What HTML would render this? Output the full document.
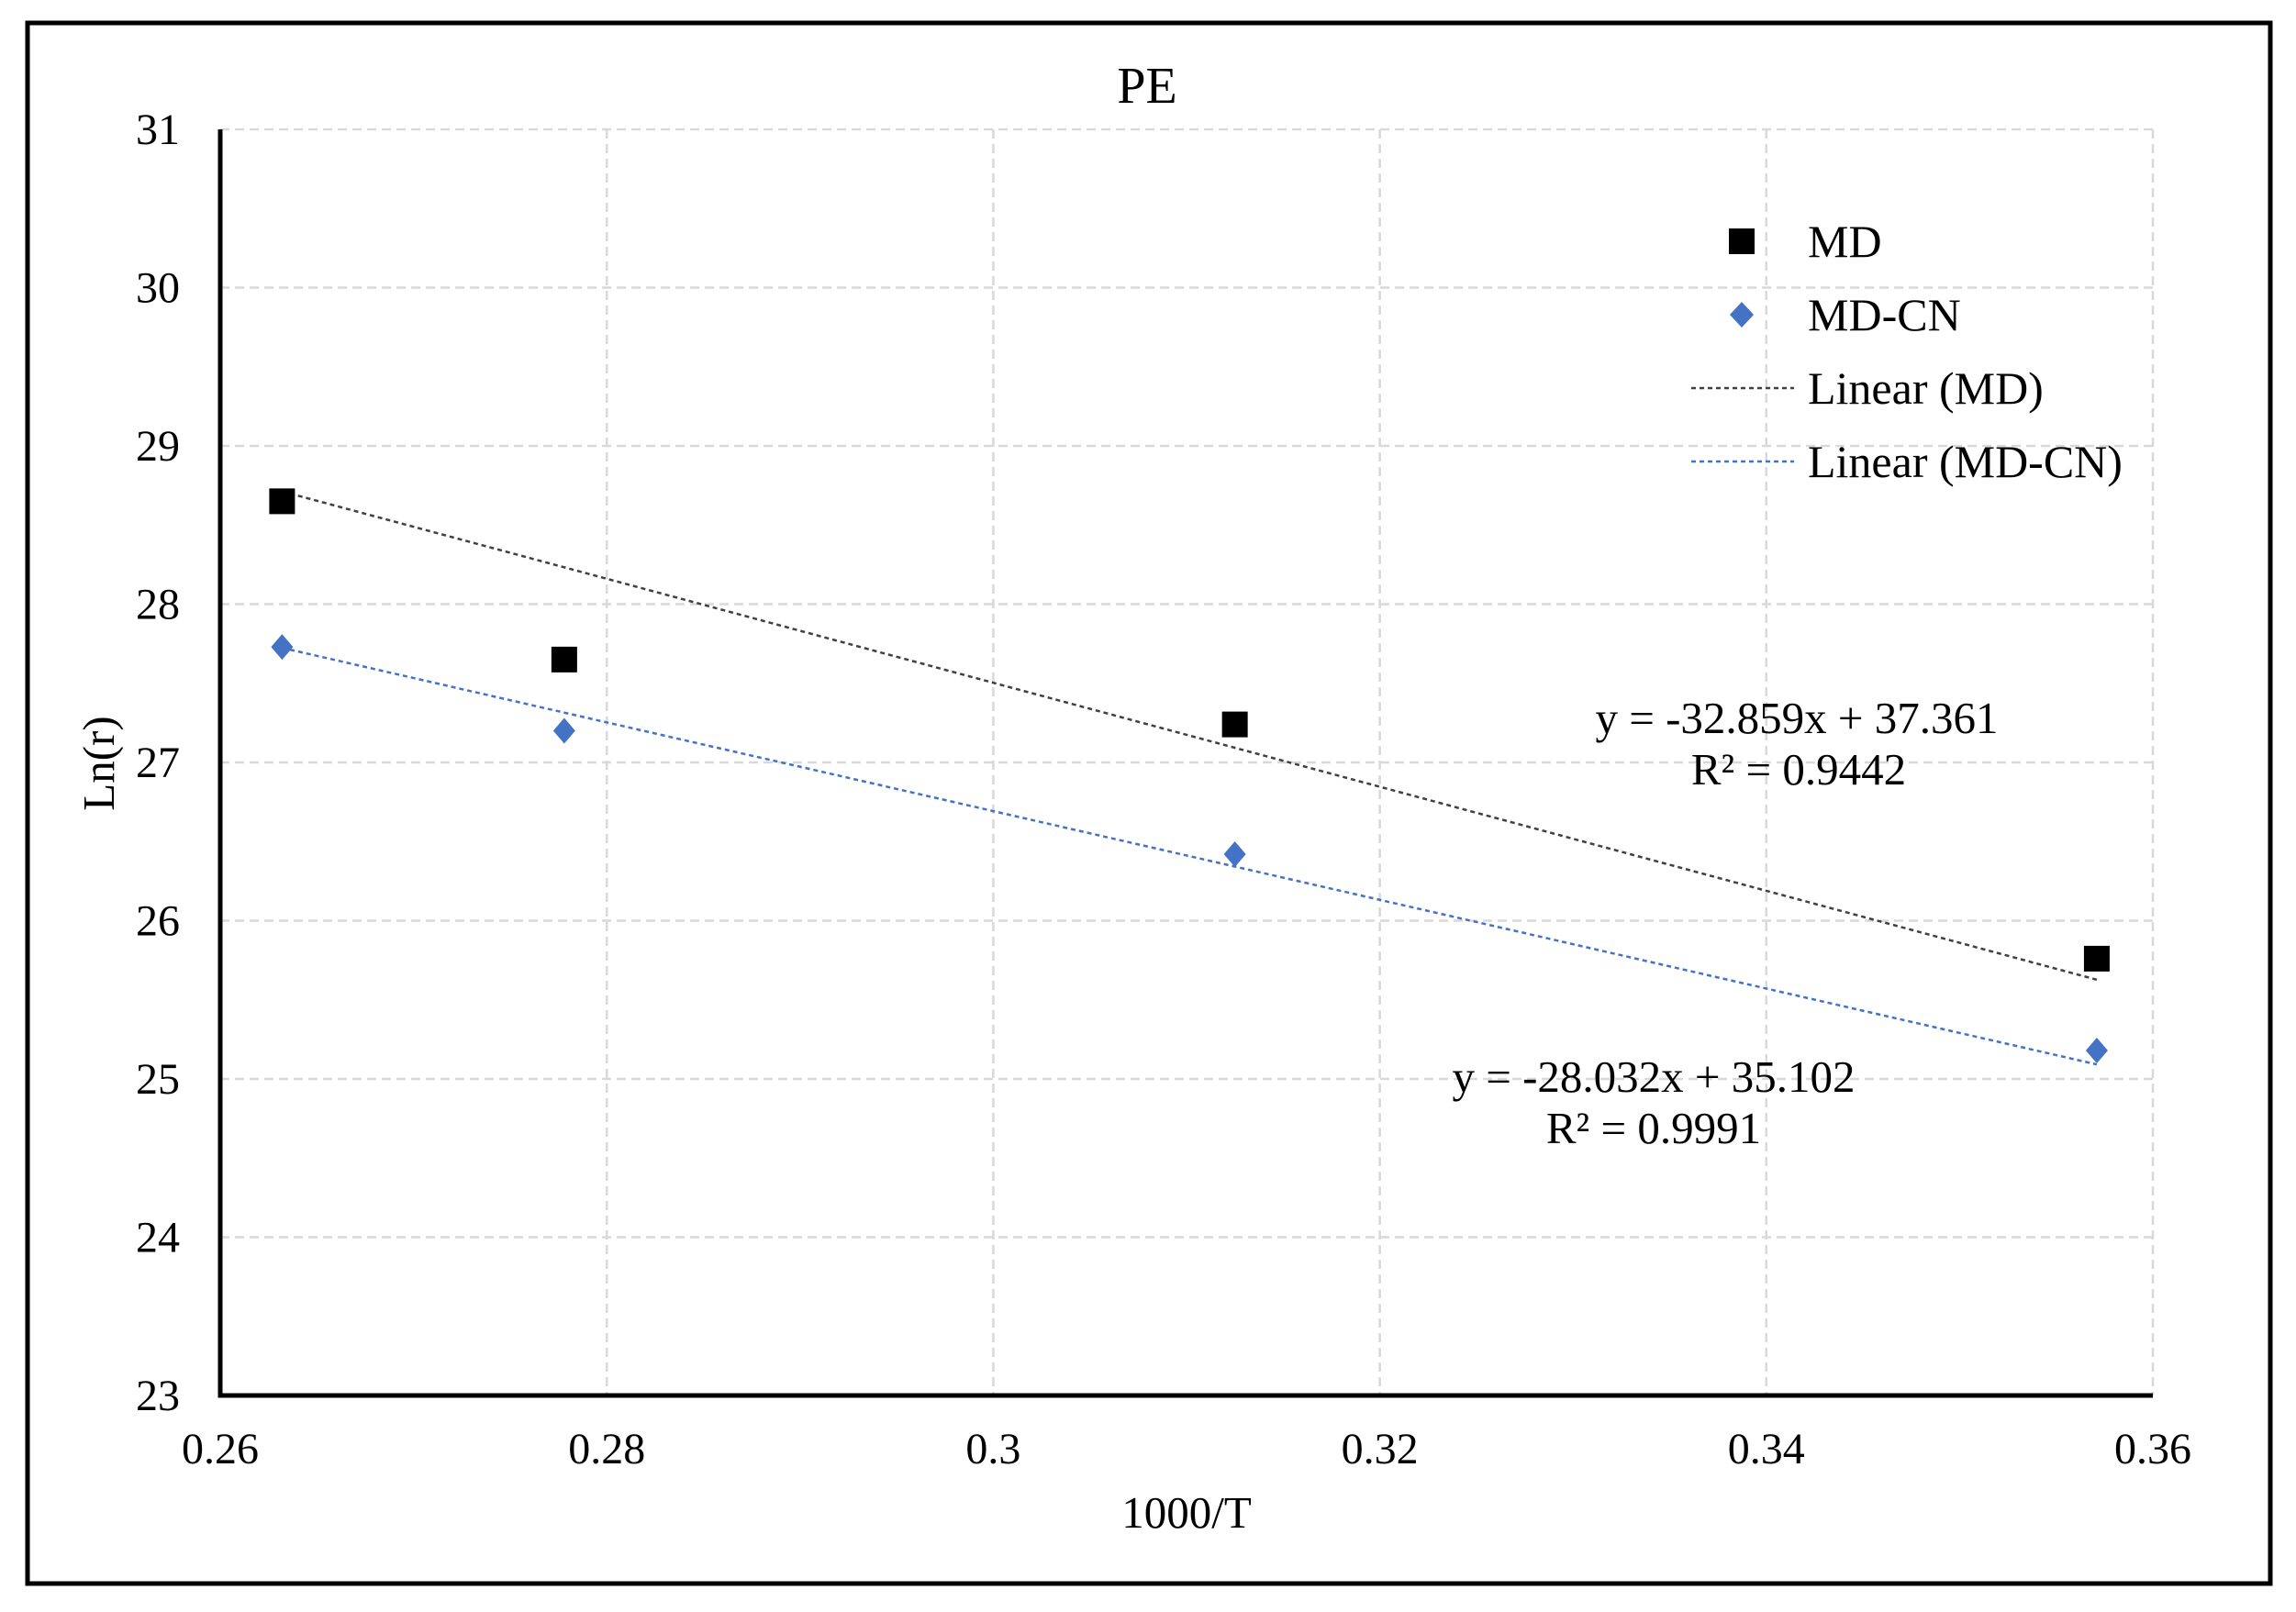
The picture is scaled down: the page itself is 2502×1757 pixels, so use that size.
<!DOCTYPE html>
<html><head><meta charset="utf-8"><style>
html,body{margin:0;padding:0;background:#fff;}
svg{display:block;font-family:"Liberation Serif",serif;}
</style></head><body>
<svg id="chart" width="2502" height="1757" viewBox="0 0 2502 1757">
<rect x="30" y="25" width="2444" height="1701" fill="#fff" stroke="#000" stroke-width="5"/>
<text x="1250" y="112" font-size="56" text-anchor="middle">PE</text>
<g id="grid"></g>
<g id="axes"></g>
<g id="series"></g>
<text x="1293" y="1665" font-size="49" text-anchor="middle">1000/T</text>
<text transform="translate(124,832) rotate(-90)" font-size="49" text-anchor="middle">Ln(r)</text>
<g>
<rect x="1884" y="249" width="28" height="28" fill="#000"/>
<text x="1970" y="280" font-size="50">MD</text>
<polygon points="1898,329 1911,343 1898,357 1885,343" fill="#4472c4"/>
<text x="1970" y="360" font-size="50">MD-CN</text>
<line x1="1843" y1="423" x2="1955" y2="423" stroke="#404040" stroke-width="2.5" stroke-dasharray="5,4"/>
<text x="1970" y="440" font-size="50">Linear (MD)</text>
<line x1="1843" y1="503" x2="1955" y2="503" stroke="#4472c4" stroke-width="2.5" stroke-dasharray="5,4"/>
<text x="1970" y="520" font-size="50">Linear (MD-CN)</text>
</g>
<text x="1958" y="799" font-size="49" text-anchor="middle">y = -32.859x + 37.361</text>
<text x="1960" y="855" font-size="49" text-anchor="middle">R² = 0.9442</text>
<text x="1802" y="1190" font-size="49" text-anchor="middle">y = -28.032x + 35.102</text>
<text x="1802" y="1246" font-size="49" text-anchor="middle">R² = 0.9991</text>
</svg>
<script>
const xValues = [0.2632, 0.2778, 0.3125, 0.3571];
const mdValues = [28.65, 27.65, 27.24, 25.76];
const mdcnValues = [27.73, 27.20, 26.42, 25.18];
const xTicks = [0.26, 0.28, 0.3, 0.32, 0.34, 0.36];
const xTickLabels = ["0.26", "0.28", "0.3", "0.32", "0.34", "0.36"];
const yTicks = [23, 24, 25, 26, 27, 28, 29, 30, 31];
const mdTrend = [-32.859, 37.361];
const mdcnTrend = [-28.032, 35.102];

const X0 = 240, X1 = 2346, Y0 = 1521, Y1 = 141;
function sx(v){ return X0 + (v - 0.26) / 0.1 * (X1 - X0); }
function sy(v){ return Y0 - (v - 23) / 8 * (Y0 - Y1); }
const NS = "http://www.w3.org/2000/svg";
function mk(parent, tag, attrs){
  const e = document.createElementNS(NS, tag);
  for (const k in attrs) e.setAttribute(k, attrs[k]);
  document.getElementById(parent).appendChild(e);
  return e;
}
xTicks.forEach((t, i) => {
  if (i > 0) {
    const g = mk('grid', 'line', {x1: sx(t), x2: sx(t), y1: Y1, y2: Y0, stroke: '#d9d9d9', 'stroke-width': 2.5, 'stroke-dasharray': '10,6'});
    
    
  }
  const l = mk('axes', 'text', {x: sx(t), y: Y0 + 74, 'font-size': 48, 'text-anchor': 'middle'});
  l.textContent = xTickLabels[i];
  
  
});
yTicks.forEach(t => {
  if (t > 23) {
    const g = mk('grid', 'line', {x1: X0, x2: X1, y1: sy(t), y2: sy(t), stroke: '#d9d9d9', 'stroke-width': 2.5, 'stroke-dasharray': '10,6'});
    
    
  }
  const l = mk('axes', 'text', {x: 196, y: sy(t) + 16, 'font-size': 48, 'text-anchor': 'end'});
  l.textContent = String(t);
  
  
});
const ax = mk('axes', 'path', {d: `M${X0},${Y1} L${X0},${Y0} L${X1},${Y0}`, fill: 'none', stroke: '#000', 'stroke-width': 5});



const xa = xValues[0], xb = xValues[xValues.length - 1];
const t1 = mk('series', 'line', {x1: sx(xa), y1: sy(mdTrend[0]*xa + mdTrend[1]), x2: sx(xb), y2: sy(mdTrend[0]*xb + mdTrend[1]), stroke: '#404040', 'stroke-width': 2.5, 'stroke-dasharray': '5,4'});


const t2 = mk('series', 'line', {x1: sx(xa), y1: sy(mdcnTrend[0]*xa + mdcnTrend[1]), x2: sx(xb), y2: sy(mdcnTrend[0]*xb + mdcnTrend[1]), stroke: '#4472c4', 'stroke-width': 2.5, 'stroke-dasharray': '5,4'});



xValues.forEach((x, i) => {
  const cx = sx(x), cy = sy(mdValues[i]);
  const r = mk('series', 'rect', {x: cx - 14, y: cy - 14, width: 28, height: 28, fill: '#000'});
  
  
  const dx = sx(x), dy = sy(mdcnValues[i]);
  const d = mk('series', 'polygon', {points: `${dx},${dy-14} ${dx+12},${dy} ${dx},${dy+14} ${dx-12},${dy}`, fill: '#4472c4'});
  
  
});
</script>
</body></html>
